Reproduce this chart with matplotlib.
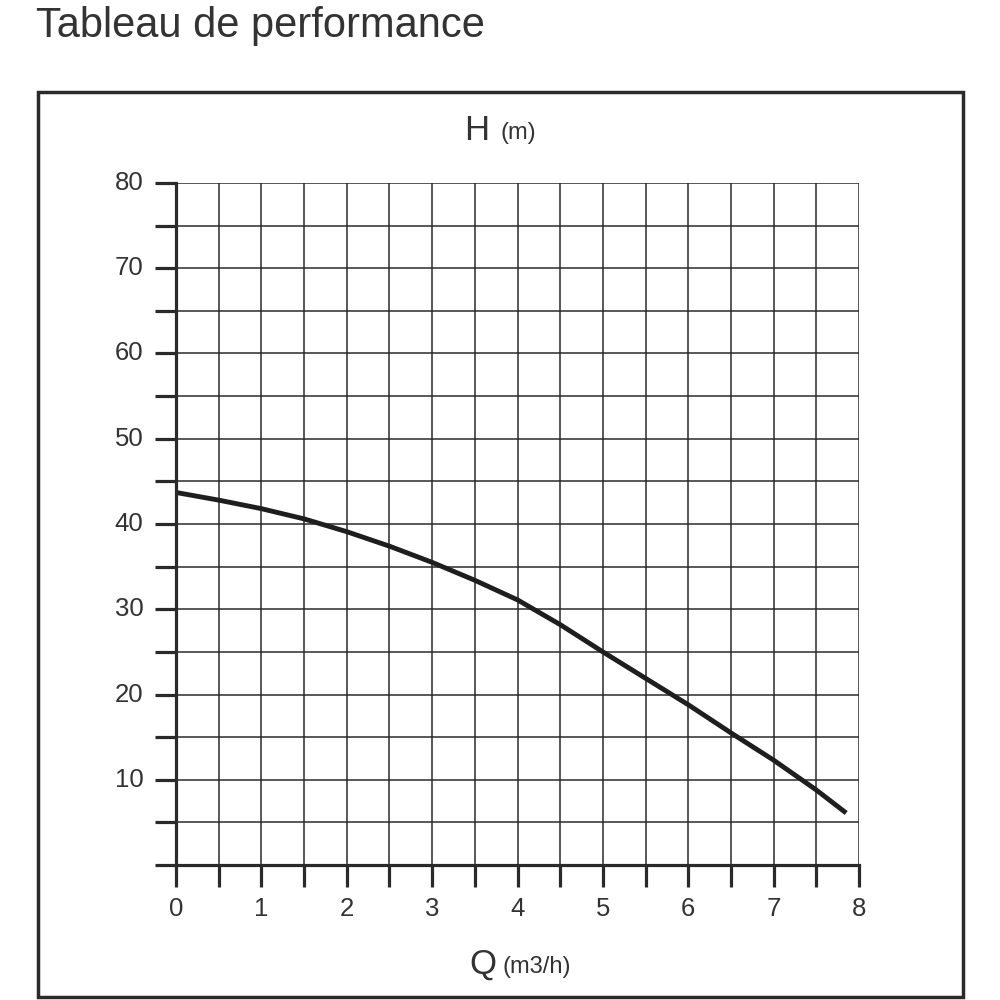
import numpy as np
import matplotlib
matplotlib.use("Agg")
import matplotlib.pyplot as plt
from matplotlib.patches import Rectangle

plt.rcParams['font.family'] = ['Liberation Sans', 'DejaVu Sans']

# courbe de performance Q (m3/h) -> H (m)
debit = [0.0, 0.5, 1.0, 1.5, 2.0, 2.5, 3.0, 3.5, 4.0, 4.5, 5.0, 5.5, 6.0, 6.5, 7.0, 7.5, 7.85]
hauteur = [43.7, 42.8, 41.8, 40.6, 39.1, 37.4, 35.5, 33.4, 31.1, 28.2, 25.0, 21.9, 18.8, 15.5, 12.3, 8.8, 6.1]

x_labels = [0, 1, 2, 3, 4, 5, 6, 7, 8]
y_labels = [10, 20, 30, 40, 50, 60, 70, 80]

col = '#2a2a2a'
txt = '#333333'

fig = plt.figure(figsize=(10, 10), dpi=100)
fig.patch.set_facecolor('white')

# cadre exterieur
fig.patches.append(Rectangle((0.038, 0.003), 0.925, 0.905, transform=fig.transFigure,
                             fill=False, edgecolor=col, linewidth=2.5))

fig.text(0.036, 0.974, "Tableau de performance", fontsize=30, color=txt, ha='left', va='center')

ax = fig.add_axes([0.176, 0.135, 0.683, 0.682])
ax.set_xlim(0, 8)
ax.set_ylim(0, 80)

# grille
ax.set_xticks(np.arange(0, 8.01, 0.5))
ax.set_yticks(np.arange(0, 80.01, 5))
ax.grid(True, color=col, linewidth=1.1)
ax.set_axisbelow(True)

ax.tick_params(axis='x', length=16, width=2.3, color=col, labelbottom=False)
ax.tick_params(axis='y', length=15, width=2.3, color=col, labelleft=False)

for s in ['top', 'right']:
    ax.spines[s].set_visible(False)
for s in ['left', 'bottom']:
    ax.spines[s].set_linewidth(2.3)
    ax.spines[s].set_color(col)

# etiquettes
for v in x_labels:
    ax.text(v, -5.2, str(v), fontsize=18.5, color=txt, ha='center', va='center')
for v in y_labels:
    ax.text(-0.38, v, str(v), fontsize=18.5, color=txt, ha='right', va='center')

ax.plot(debit, hauteur, color='#1e1e1e', linewidth=3.5, solid_capstyle='butt')

fig.text(0.464, 0.870, "H", fontsize=25, color=txt, ha='left', va='center')
fig.text(0.500, 0.867, "(m)", fontsize=17, color=txt, ha='left', va='center')
fig.text(0.469, 0.036, "Q", fontsize=25, color=txt, ha='left', va='center')
fig.text(0.502, 0.033, "(m3/h)", fontsize=17, color=txt, ha='left', va='center')

fig.savefig("out.png", dpi=100)
